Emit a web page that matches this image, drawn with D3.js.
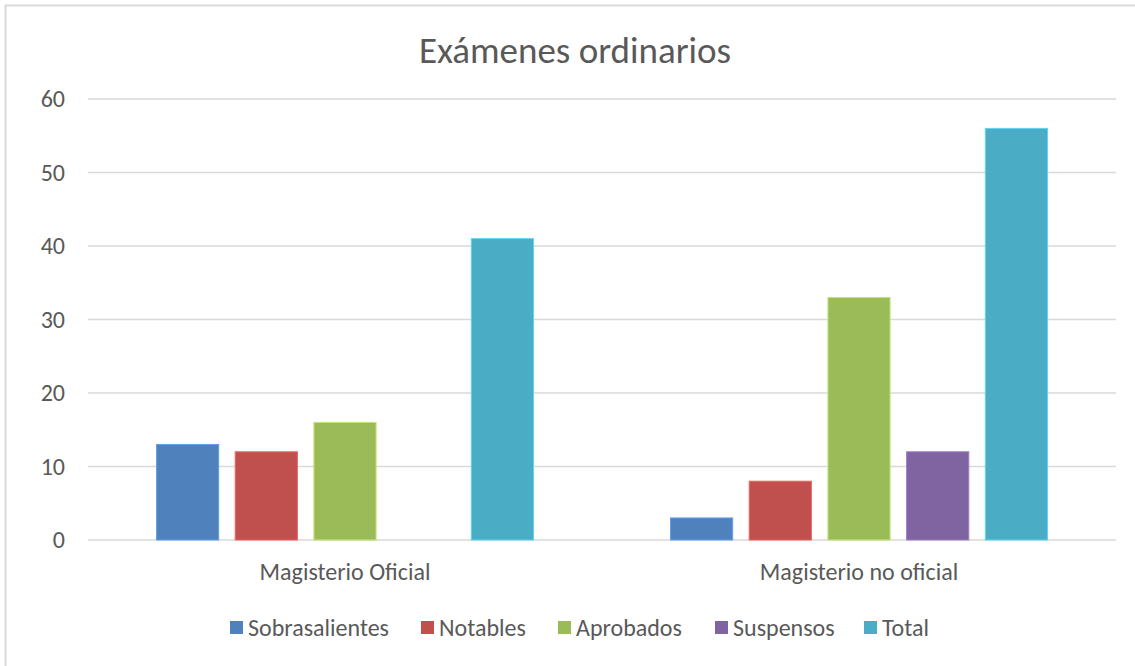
<!DOCTYPE html>
<html>
<head>
<meta charset="utf-8">
<script src="https://cdn.jsdelivr.net/npm/d3@7"></script>
<style>
  body { margin: 0; background: #fff; }
  text { font-family: Carlito, Calibri, "Open Sans", sans-serif; fill: #595959; }
</style>
</head>
<body>
<svg id="chart" width="1135" height="666"></svg>
<script>
var categories = ["Magisterio Oficial", "Magisterio no oficial"];
var seriesNames = ["Sobrasalientes", "Notables", "Aprobados", "Suspensos", "Total"];
var seriesColors = ["#4f81bd", "#c0504d", "#9bbb59", "#8064a2", "#4bacc6"];
var sobrasalientes = [13, 3];
var notables = [12, 8];
var aprobados = [16, 33];
var suspensos = [0, 12];
var total = [41, 56];
var yTicks = [0, 10, 20, 30, 40, 50, 60];

var values = [sobrasalientes, notables, aprobados, suspensos, total];

var svg = d3.select("#chart");
var margin = {left: 88, right: 19, top: 99, bottom: 126};
var width = 1135 - margin.left - margin.right;
var height = 666 - margin.top - margin.bottom;

// chart frame (right and bottom edges fall outside the picture)
svg.append("rect")
    .attr("x", 5.5).attr("y", 5.5)
    .attr("width", 1140).attr("height", 670)
    .attr("fill", "none")
    .attr("stroke", "#d9d9d9")
    .attr("stroke-width", 2);

svg.append("text")
    .attr("x", 575).attr("y", 63)
    .attr("text-anchor", "middle")
    .style("font-size", "37px")
    .text("Exámenes ordinarios");

var g = svg.append("g").attr("transform", "translate(" + margin.left + "," + margin.top + ")");

var x0 = d3.scaleBand().domain(categories).range([0, width]);
var x1 = d3.scaleBand().domain(seriesNames)
    .range([68.5, x0.bandwidth() - 68.5])
    .paddingInner(0.21);
var y = d3.scaleLinear().domain([0, 60]).range([height, 0]);

// gridlines
g.append("g")
    .selectAll("line")
    .data(yTicks)
    .enter().append("line")
    .attr("x1", 0).attr("x2", width)
    .attr("y1", function (d) { return y(d); })
    .attr("y2", function (d) { return y(d); })
    .attr("stroke", "#d9d9d9")
    .attr("stroke-width", 1.5);

// y tick labels
g.append("g")
    .selectAll("text")
    .data(yTicks)
    .enter().append("text")
    .attr("x", -23)
    .attr("y", function (d) { return y(d); })
    .attr("dy", "0.35em")
    .attr("text-anchor", "end")
    .style("font-size", "24px")
    .text(function (d) { return d; });

// bars
var groups = g.selectAll("g.cat")
    .data(categories)
    .enter().append("g")
    .attr("class", "cat")
    .attr("transform", function (d) { return "translate(" + x0(d) + ",0)"; });

groups.selectAll("rect")
    .data(function (c, ci) {
        return seriesNames.map(function (s, si) {
            return {series: s, value: values[si][ci], color: seriesColors[si]};
        });
    })
    .enter().append("rect")
    .filter(function (d) { return d.value > 0; })
    .attr("x", function (d) { return x1(d.series); })
    .attr("width", x1.bandwidth())
    .attr("y", function (d) { return y(d.value); })
    .attr("height", function (d) { return height - y(d.value); })
    .attr("fill", function (d) { return d.color; })
    .attr("stroke", function (d) { return d3.color(d.color).brighter(0.6); })
    .attr("stroke-width", 1);

// category labels
g.append("g")
    .selectAll("text")
    .data(categories)
    .enter().append("text")
    .attr("x", function (d) { return x0(d) + x0.bandwidth() / 2; })
    .attr("y", height + 32)
    .attr("dy", "0.35em")
    .attr("text-anchor", "middle")
    .style("font-size", "24px")
    .text(function (d) { return d; });

// legend
var legendX = [230, 421, 558, 715, 864];
var legend = svg.append("g").selectAll("g")
    .data(seriesNames)
    .enter().append("g")
    .attr("transform", function (d, i) { return "translate(" + legendX[i] + ",621)"; });

legend.append("rect")
    .attr("width", 13).attr("height", 13)
    .attr("fill", function (d, i) { return seriesColors[i]; });

legend.append("text")
    .attr("x", 18).attr("y", 6.5)
    .attr("dy", "0.35em")
    .style("font-size", "24px")
    .text(function (d) { return d; });
</script>
</body>
</html>
